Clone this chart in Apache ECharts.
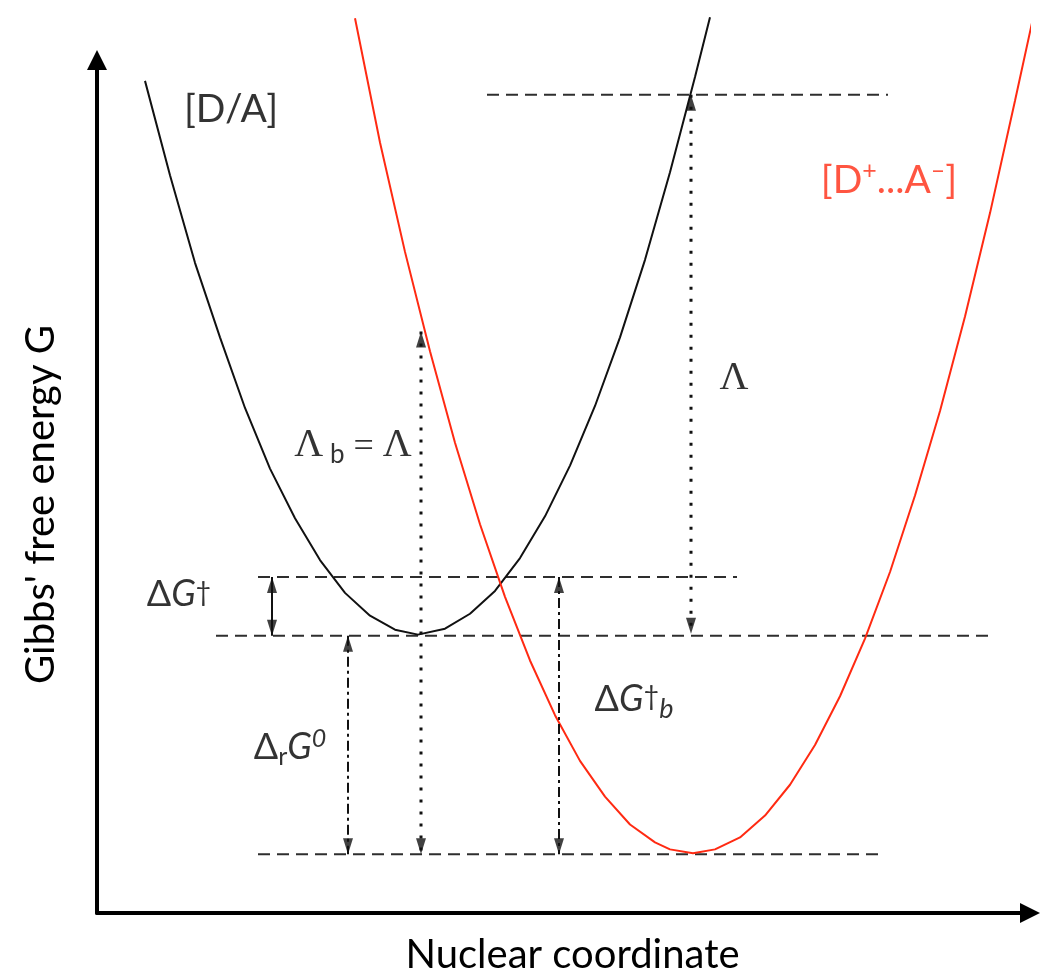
<!DOCTYPE html>
<html>
<head>
<meta charset="utf-8">
<script src="https://cdn.jsdelivr.net/npm/echarts@6/dist/echarts.min.js"></script>
<style>
html,body{margin:0;padding:0;background:#fff;}
#chart{width:1041px;height:980px;}
</style>
</head>
<body>
<div id="chart"></div>
<script>
// ---- data (nuclear coordinate, Gibbs free energy) ----
const reactantCurve = [
  [48, 837], [73, 742], [98, 654], [123, 579], [148, 508], [173, 447],
  [198, 397], [223, 355], [248, 322], [273, 299], [298, 285], [321, 280],
  [348, 286], [373, 301], [398, 324], [423, 357], [448, 399], [473, 450],
  [498, 510], [523, 579], [548, 657], [573, 745], [598, 841], [613, 901]
];
const productCurve = [
  [258, 900], [283, 775], [308, 665], [333, 565], [358, 473], [383, 391],
  [408, 318], [433, 254], [458, 199], [483, 153], [508, 117], [533, 89],
  [558, 71], [573, 64], [596, 60], [618, 64], [643, 76], [668, 98],
  [693, 129], [718, 169], [743, 218], [768, 276], [793, 343], [818, 420],
  [843, 505], [868, 600], [893, 704], [918, 817], [936, 900]
];
// dashed reference levels: y value, x start, x end
const levelY      = [823, 338, 279, 59];
const levelXStart = [390, 161, 119, 161];
const levelXEnd   = [791, 640, 893, 783];
// vertical double arrows: x, y from, y to, style
const arrowX     = [175, 251, 324, 594, 462];
const arrowYFrom = [338, 279, 585, 823, 338];
const arrowYTo   = [279, 59, 59, 281, 59];
const arrowStyle = ['solid', 'dashdot', 'dotted', 'dotted', 'dashdot'];
// annotation labels
const labelNames = ['DA', 'DpAm', 'Lambda', 'LambdaB', 'dGdag', 'drG0', 'dGdagb'];
const labelX = [134, 792, 637, 256, 82, 193, 537];
const labelY = [808, 738, 536, 468, 317, 165, 212];
const labelText = [
  '{n|[D/A]}',
  '{r|[D}{rs|+}{r|...A}{rs|\u2013}{r|]}',
  '{L|\u039B}',
  '{L|\u039B}{sb| b}{eq| = }{L|\u039B}',
  '{d|\u0394}{gi|G}{dg|\u2020}',
  '{d|\u0394}{sub|r}{gi|G}{sup|0}',
  '{d|\u0394}{gi|G}{dg|\u2020}{bi|b}'
];
const xName = 'Nuclear coordinate';
const yName = "Gibbs' free energy G";

const RED = '#ff2a12';
const SANS = 'Lato, "Open Sans", sans-serif';
const SERIF = '"Liberation Serif", "DejaVu Serif", serif';

const dashStyles = {
  solid: 'solid',
  dashdot: [10, 4, 3, 4],
  dotted: [3, 9]
};

const series = [];
series.push({
  type: 'line', data: reactantCurve, symbol: 'none', clip: false, silent: true,
  lineStyle: {color: '#111', width: 2}, z: 3
});
series.push({
  type: 'line', data: productCurve, symbol: 'none', clip: false, silent: true,
  lineStyle: {color: RED, width: 2}, z: 3
});
for (let i = 0; i < levelY.length; i++) {
  series.push({
    type: 'line', symbol: 'none', silent: true, clip: false,
    data: [[levelXStart[i], levelY[i]], [levelXEnd[i], levelY[i]]],
    lineStyle: {color: '#2e2e2e', width: 2, type: [12, 7]}, z: 2
  });
}
// arrow shafts
for (let i = 0; i < arrowX.length; i++) {
  const st = arrowStyle[i];
  series.push({
    type: 'line', symbol: 'none', silent: true, clip: false,
    data: [[arrowX[i], arrowYFrom[i]], [arrowX[i], arrowYTo[i]]],
    lineStyle: {color: '#111', width: st === 'dotted' ? 3 : 2, type: dashStyles[st]}, z: 4
  });
}
// arrow heads (both ends, pointing outward, tip on the end point)
const heads = [];
for (let i = 0; i < arrowX.length; i++) {
  const up = arrowYTo[i] > arrowYFrom[i];
  heads.push({value: [arrowX[i], arrowYTo[i]], symbolRotate: up ? 0 : 180, symbolOffset: [0, up ? 8 : -8]});
  heads.push({value: [arrowX[i], arrowYFrom[i]], symbolRotate: up ? 180 : 0, symbolOffset: [0, up ? -8 : 8]});
}
series.push({
  type: 'scatter', symbol: 'triangle', symbolSize: [10, 16], silent: true, clip: false, z: 5,
  itemStyle: {color: '#111'}, data: heads
});
const rich = {
  n: {fontFamily: SANS, fontSize: 39, color: '#000'},
  r: {fontFamily: SANS, fontSize: 39, color: RED, verticalAlign: 'bottom', padding: [0,0,0,0]},
  rs: {fontFamily: SANS, fontSize: 25, color: RED, verticalAlign: 'bottom', padding: [0,0,16,0]},
  L: {fontFamily: SERIF, fontSize: 40, color: '#000', verticalAlign: 'bottom', padding: [0,0,4,0]},
  sb: {fontFamily: SANS, fontSize: 26, color: '#000', verticalAlign: 'bottom', padding: [0,0,2,0]},
  eq: {fontFamily: SERIF, fontSize: 36, color: '#000', verticalAlign: 'bottom', padding: [0,0,4,0]},
  d: {fontFamily: SANS, fontSize: 36, color: '#000', verticalAlign: 'bottom', padding: [0,0,6,0]},
  gi: {fontFamily: SANS, fontSize: 36, fontStyle: 'italic', color: '#000', verticalAlign: 'bottom', padding: [0,0,6,0]},
  dg: {fontFamily: SANS, fontSize: 27, color: '#000', verticalAlign: 'bottom', padding: [0,0,13,0]},
  bi: {fontFamily: SANS, fontSize: 27, fontStyle: 'italic', color: '#000', verticalAlign: 'bottom', padding: [0,0,0,0]},
  sub: {fontFamily: SANS, fontSize: 25, color: '#000', verticalAlign: 'bottom', padding: [0,0,2,0]},
  sup: {fontFamily: SANS, fontSize: 25, fontStyle: 'italic', color: '#000', verticalAlign: 'bottom', padding: [0,0,20,0]}
};
series.push({
  type: 'scatter', symbolSize: 0, silent: true, clip: false, z: 6,
  data: labelNames.map((nm, i) => ({
    name: nm, value: [labelX[i], labelY[i]],
    label: {show: true, position: 'inside', formatter: labelText[i], rich: rich}
  }))
});

const chart = echarts.init(document.getElementById('chart'), null, {renderer: 'canvas'});
chart.setOption({
  animation: false,
  backgroundColor: '#fff',
  grid: {left: 97, right: 11, top: 60, bottom: 62},
  xAxis: {
    type: 'value', min: 0, max: 933,
    name: xName, nameLocation: 'middle', nameGap: 22,
    nameTextStyle: {fontFamily: SANS, fontSize: 40, color: '#000', padding: [0, 0, 0, 18]},
    axisLine: {show: true, onZero: false, symbol: ['none', 'triangle'], symbolSize: [20, 20],
      lineStyle: {color: '#000', width: 4}},
    axisTick: {show: false}, axisLabel: {show: false}, splitLine: {show: false}
  },
  yAxis: {
    type: 'value', min: 0, max: 858,
    name: yName, nameLocation: 'middle', nameGap: 36,
    nameTextStyle: {fontFamily: SANS, fontSize: 40, color: '#000', padding: [0, 36, 0, 0]},
    axisLine: {show: true, onZero: false, symbol: ['none', 'triangle'], symbolSize: [20, 20],
      lineStyle: {color: '#000', width: 4}},
    axisTick: {show: false}, axisLabel: {show: false}, splitLine: {show: false}
  },
  series: series
});
</script>
</body>
</html>
